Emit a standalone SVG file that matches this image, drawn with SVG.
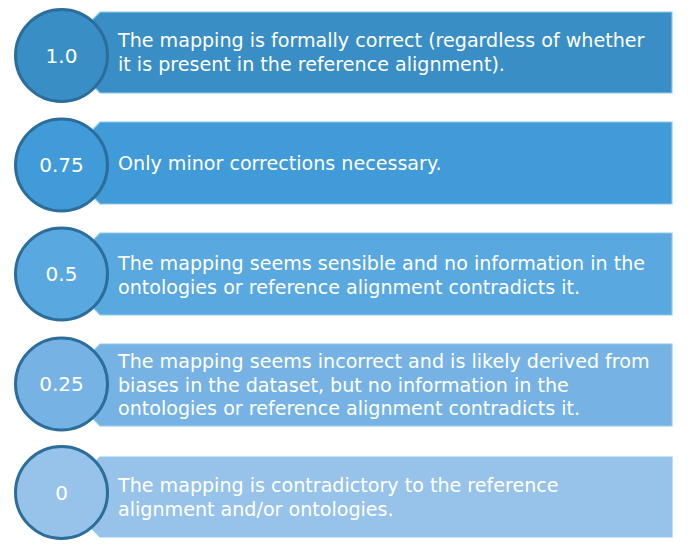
<svg xmlns="http://www.w3.org/2000/svg" width="688" height="546" viewBox="0 0 688 546">
<style>
.box{stroke:#8ccbea;stroke-width:1.2}
.circ{stroke:#2c6e9b;stroke-width:3}
.num{font-family:"DejaVu Sans","Liberation Sans",sans-serif;font-size:20px;fill:#ffffff;text-anchor:middle}
.txt{font-family:"DejaVu Sans","Liberation Sans",sans-serif;font-size:19.1px;fill:#ffffff}
</style>
<rect width="688" height="546" fill="#ffffff"/>
<g id="row1">
<polygon class="box" fill="#3a8ec6" points="100,12 672,12 672,93 100,93 60,52"/>
<circle class="circ" fill="#3a8ec6" cx="61.5" cy="55.5" r="46"/>
<text class="num" x="61.5" y="63">1.0</text>
<text class="txt" x="118" y="47">The mapping is formally correct (regardless of whether</text>
<text class="txt" x="118" y="71">it is present in the reference alignment).</text>
</g>
<g id="row2">
<polygon class="box" fill="#419bd9" points="100,122 672,122 672,204 100,204 60,163"/>
<circle class="circ" fill="#419bd9" cx="61.5" cy="165" r="46"/>
<text class="num" x="61.5" y="172">0.75</text>
<text class="txt" x="118" y="170">Only minor corrections necessary.</text>
</g>
<g id="row3">
<polygon class="box" fill="#59a8e0" points="100,233 672,233 672,315 100,315 60,274"/>
<circle class="circ" fill="#59a8e0" cx="61.5" cy="274" r="46"/>
<text class="num" x="61.5" y="281">0.5</text>
<text class="txt" x="118" y="270">The mapping seems sensible and no information in the</text>
<text class="txt" x="118" y="294">ontologies or reference alignment contradicts it.</text>
</g>
<g id="row4">
<polygon class="box" fill="#76b3e4" points="100,344 672,344 672,426 100,426 60,385"/>
<circle class="circ" fill="#76b3e4" cx="61.5" cy="384" r="46"/>
<text class="num" x="61.5" y="391">0.25</text>
<text class="txt" x="118" y="368">The mapping seems incorrect and is likely derived from</text>
<text class="txt" x="118" y="391.5">biases in the dataset, but no information in the</text>
<text class="txt" x="118" y="415">ontologies or reference alignment contradicts it.</text>
</g>
<g id="row5">
<polygon class="box" fill="#97c3ea" points="100,457 672,457 672,537 100,537 60,497"/>
<circle class="circ" fill="#97c3ea" cx="61.5" cy="492.5" r="46"/>
<text class="num" x="61.5" y="499.5">0</text>
<text class="txt" x="118" y="492">The mapping is contradictory to the reference</text>
<text class="txt" x="118" y="516">alignment and/or ontologies.</text>
</g>
<g id="connectors"></g>
</svg>
